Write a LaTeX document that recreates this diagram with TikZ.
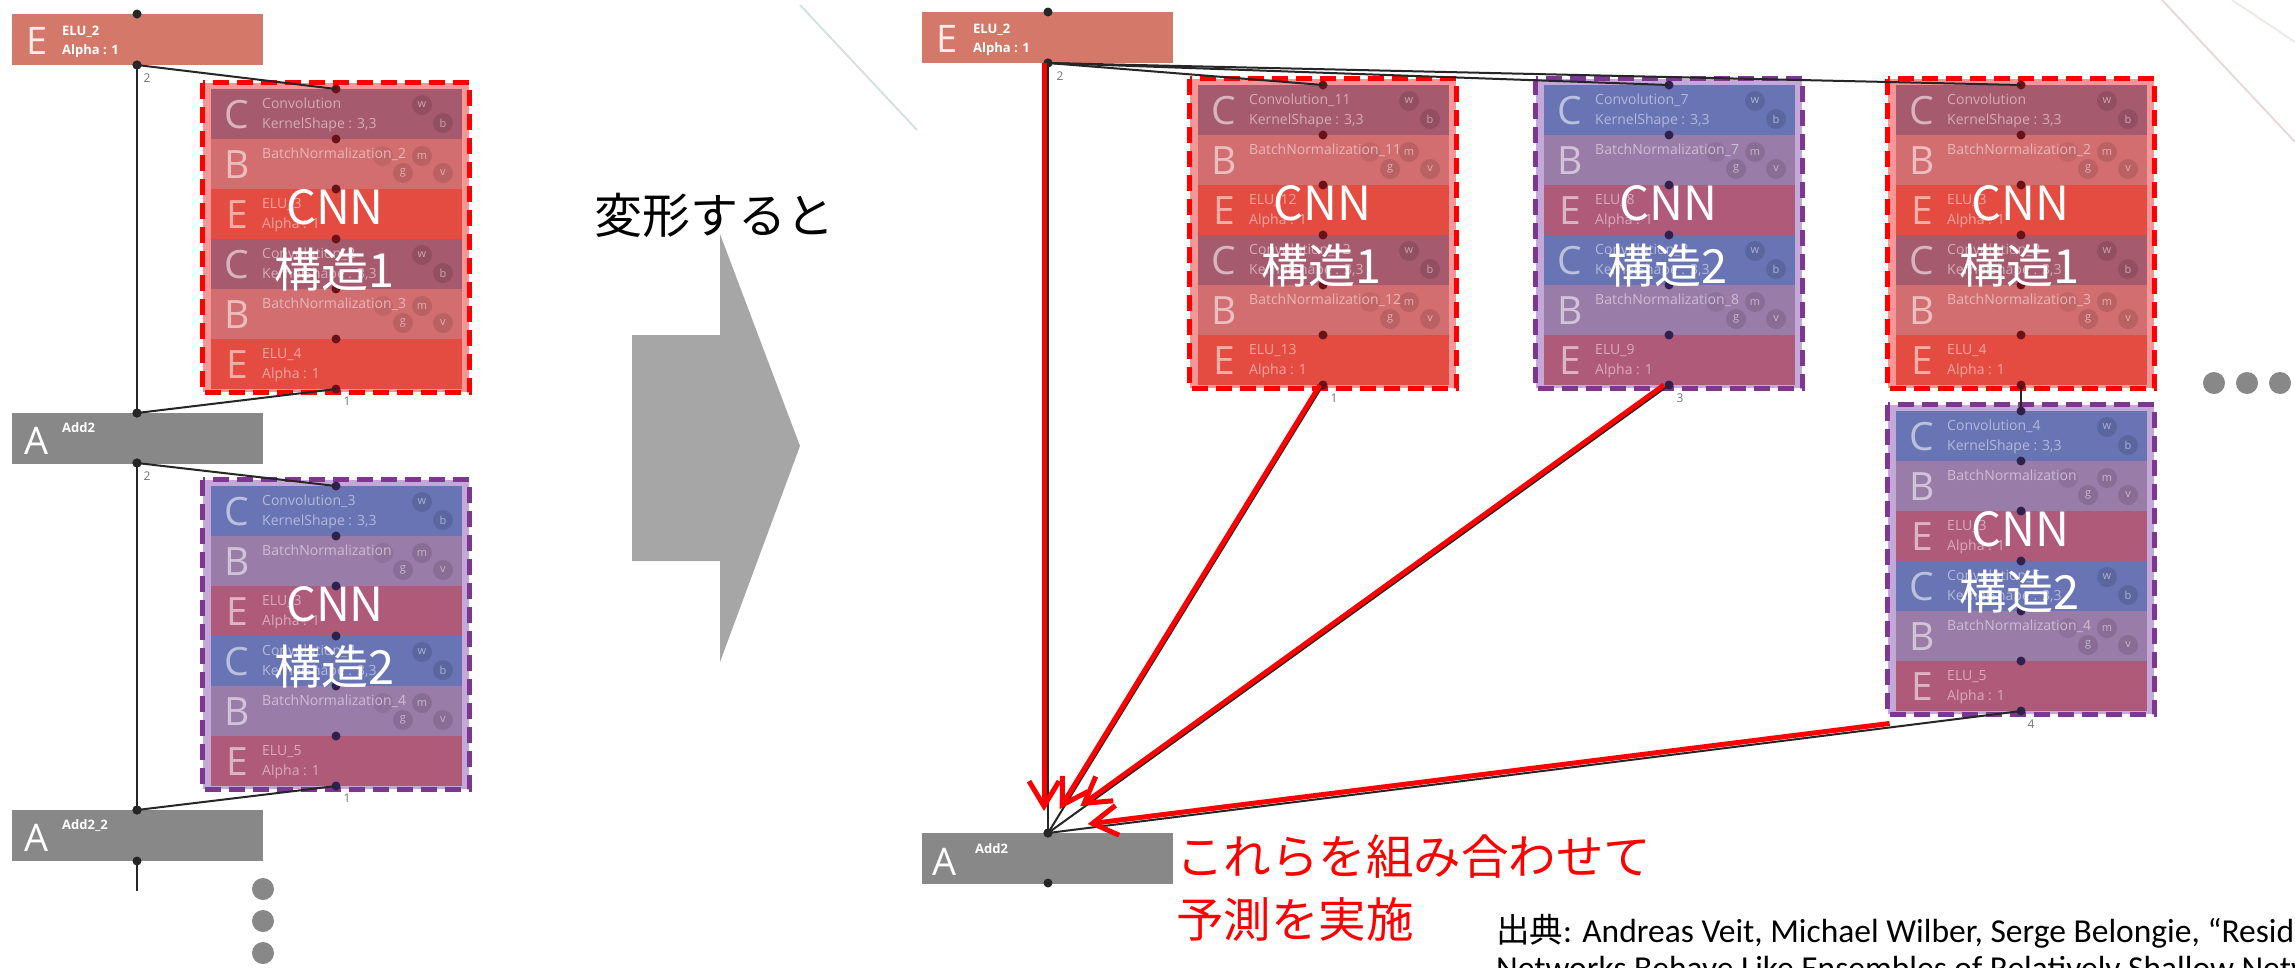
\documentclass[tikz,border=0pt]{standalone}
\usepackage{fontspec}
\setmainfont{Open Sans}
\setsansfont{Open Sans}
\newfontfamily\jp{Noto Sans CJK JP}
\newfontfamily\calib{Carlito}
\usetikzlibrary{arrows.meta,calc}
\definecolor{eluC}{RGB}{212,120,106}
\definecolor{addC}{RGB}{136,136,136}
\definecolor{arrC}{RGB}{166,166,166}
\definecolor{rC}{RGB}{166,90,110}
\definecolor{rB}{RGB}{210,110,112}
\definecolor{rE}{RGB}{228,76,66}
\definecolor{rBd}{RGB}{246,150,150}
\definecolor{rDash}{RGB}{255,0,0}
\definecolor{rDot}{RGB}{105,18,24}
\definecolor{pC}{RGB}{104,116,180}
\definecolor{pB}{RGB}{154,124,168}
\definecolor{pE}{RGB}{176,90,122}
\definecolor{pBd}{RGB}{196,168,216}
\definecolor{pDash}{RGB}{125,55,145}
\definecolor{pDot}{RGB}{48,32,78}
\definecolor{faintA}{RGB}{212,226,226}
\definecolor{faintB}{RGB}{232,218,216}
\newcommand\fsz[1]{\fontsize{#1}{#1}\selectfont}
\def\typeC{C}\def\typeB{B}\def\typeE{E}
\def\rnum{1}\def\pnum{2}
\tikzset{
 odot/.style={circle,fill=black!85,inner sep=0,minimum size=9},
 cdot/.style={circle,inner sep=0,minimum size=9},
 boxrect/.style={inner sep=0,minimum width=251,minimum height=51},
 boxletter/.style={inner sep=0,text=white!92!red,font=\sffamily\fsz{38}},
 boxname/.style={inner sep=0,anchor=base west,text=white,font=\sffamily\bfseries\fsz{13}},
 bigletter/.style={inner sep=0,font=\sffamily\fsz{39}},
 lname/.style={inner sep=0,anchor=base west,font=\sffamily\fsz{14}},
 pcirc/.style={circle,inner sep=0,minimum size=20,font=\sffamily\fsz{11}},
 cnntext/.style={inner sep=0,text=white,font=\jp\fsz{47}},
 conn/.style={draw=black!85,line width=2},
 redarr/.style={draw=red,line width=5,-{Straight Barb[length=25pt,width=30pt]}},
 num/.style={inner sep=0,font=\sffamily\fsz{12},text=black!55},
 gdot/.style={circle,fill=addC,inner sep=0,minimum size=22},
}
\newcommand\cnnbox[5]{%
 \begin{scope}[shift={(#2,#3)}]
  \fill[#4Bd] (3,3) rectangle (269,312);
  \foreach \t/\n [count=\i from 0] in {#5} {
    \edef\cc{#4\t}
    \colorlet{curC}{\cc}
    \pgfmathsetmacro\yt{9+50*\i}
    \fill[curC] (11,\yt) rectangle (262,\yt+50);
    \ifx\t\typeC
      \node[pcirc,fill=curC!88!black,text=curC!55!white] (#1-w\i) at (222,\yt+16) {w};
      \node[pcirc,fill=curC!88!black,text=curC!55!white] (#1-b\i) at (243,\yt+34) {b};
      \node[lname,text=curC!50!white] (#1-s\i) at (62,\yt+39) {KernelShape : 3,3};
    \fi
    \ifx\t\typeB
      \node[pcirc,fill=curC!92!black] (#1-x\i) at (183,\yt+17) {};
      \node[pcirc,fill=curC!88!black,text=curC!55!white] (#1-m\i) at (222,\yt+17) {m};
      \node[pcirc,fill=curC!88!black,text=curC!55!white] (#1-g\i) at (203,\yt+34) {g};
      \node[pcirc,fill=curC!88!black,text=curC!55!white] (#1-v\i) at (243,\yt+34) {v};
    \fi
    \ifx\t\typeE
      \node[lname,text=curC!50!white] (#1-s\i) at (62,\yt+39) {Alpha : 1};
    \fi
    \node[bigletter,text=curC!45!white] (#1-L\i) at (37,\yt+26) {\t};
    \node[lname,text=curC!50!white] (#1-n\i) at (62,\yt+19) {\n};
  }
  \draw[#4Dash,line width=5,dash pattern=on 16pt off 8pt] (2.5,2.5) rectangle (269.5,312.5);
  \foreach \j in {0,...,6} \node[cdot,fill=#4Dot] (#1-d\j) at (136,9+50*\j) {};
  \node[cnntext] (#1-t1) at (135,127) {CNN};
  \node[cnntext] (#1-t2) at (135,190) {構造\csname #4num\endcsname};
 \end{scope}}
\begin{document}
\begin{tikzpicture}[x=1pt,y=-1pt]
\useasboundingbox (0,0) rectangle (2295,967);
\clip (0,0) rectangle (2295,967);
\fill[white] (0,0) rectangle (2295,967);
% faint background strokes
\draw[faintA,line width=2] (800,5) -- (917,130);
\draw[faintB,line width=2] (2162,0) -- (2295,142);
\draw[faintB!60!white,line width=2] (2232,0) -- (2295,42);

% ---------- left column ----------
\node[boxrect,fill=eluC] (lelu) at (137,39.5) {};
\node[boxletter] (lelu-l) at (37,41) {E};
\node[boxname] (lelu-n) at (62,35) {ELU\_2};
\node[boxname] (lelu-a) at (62,54) {Alpha : 1};
\node[odot] (lelu-t) at (137,14) {};
\node[odot] (lelu-b) at (137,65) {};

\node[boxrect,fill=addC] (la2) at (137,438) {};
\node[boxletter,text=white] (la2-l) at (37,441) {A};
\node[boxname] (la2-n) at (62,432) {Add2};
\node[odot] (la2-t) at (137,413) {};
\node[odot] (la2-b) at (137,463) {};

\node[boxrect,fill=addC] (la22) at (137,835.5) {};
\node[boxletter,text=white] (la22-l) at (37,838) {A};
\node[boxname] (la22-n) at (62,829) {Add2\_2};
\node[odot] (la22-t) at (137,810) {};
\node[odot] (la22-b) at (137,861) {};
\coordinate (lend) at (137,891);

\cnnbox{L1}{200}{80}{r}{C/Convolution,B/BatchNormalization\_2,E/ELU\_3,C/Convolution\_2,B/BatchNormalization\_3,E/ELU\_4}
\cnnbox{L2}{200}{477}{p}{C/Convolution\_3,B/BatchNormalization,E/ELU\_3,C/Convolution\_4,B/BatchNormalization\_4,E/ELU\_5}

\draw[conn] (lelu-b.center) -- (la2-t.center);
\draw[conn] (lelu-b.center) -- (L1-d0.center);
\draw[conn] (L1-d6.center) -- (la2-t.center);
\draw[conn] (la2-b.center) -- (la22-t.center);
\draw[conn] (la2-b.center) -- (L2-d0.center);
\draw[conn] (L2-d6.center) -- (la22-t.center);
\draw[conn] (la22-b.center) -- (lend);
\node[odot] at (lelu-b) {};
\node[odot] at (la2-t) {};
\node[odot] at (la2-b) {};
\node[odot] at (la22-t) {};

\node[num] (ln2a) at (147,78) {2};
\node[num] (ln1a) at (347,401) {1};
\node[num] (ln2b) at (147,476) {2};
\node[num] (ln1b) at (347,798) {1};

\node[gdot] (lg1) at (263,889) {};
\node[gdot] (lg2) at (263,921) {};
\node[gdot] (lg3) at (263,953) {};

% ---------- middle ----------
\node[anchor=west,inner sep=0,font=\jp\fsz{48}] (henkei) at (594,215) {変形すると};
\fill[arrC] (632,335) -- (720,335) -- (720,234) -- (800,446) -- (720,662) -- (720,561) -- (632,561) -- cycle;

% ---------- right ----------
\node[boxrect,fill=eluC] (relu) at (1047.5,37.5) {};
\node[boxletter] (relu-l) at (947,39) {E};
\node[boxname] (relu-n) at (973,33) {ELU\_2};
\node[boxname] (relu-a) at (973,52) {Alpha : 1};
\node[odot] (relu-t) at (1048,12) {};
\node[odot] (relu-b) at (1048,63) {};

\node[boxrect,fill=addC] (ra2) at (1047.5,858) {};
\node[boxletter,text=white] (ra2-l) at (945,862) {A};
\node[boxname] (ra2-n) at (975,853) {Add2};
\node[odot] (ra2-t) at (1048,833) {};
\node[odot] (ra2-b) at (1048,883) {};

\cnnbox{A}{1187}{76}{r}{C/Convolution\_11,B/BatchNormalization\_11,E/ELU\_12,C/Convolution\_12,B/BatchNormalization\_12,E/ELU\_13}
\cnnbox{B}{1533}{76}{p}{C/Convolution\_7,B/BatchNormalization\_7,E/ELU\_8,C/Convolution\_8,B/BatchNormalization\_8,E/ELU\_9}
\cnnbox{C}{1885}{76}{r}{C/Convolution,B/BatchNormalization\_2,E/ELU\_3,C/Convolution\_2,B/BatchNormalization\_3,E/ELU\_4}
\cnnbox{D}{1885}{402}{p}{C/Convolution\_4,B/BatchNormalization,E/ELU\_3,C/Convolution\_5,B/BatchNormalization\_4,E/ELU\_5}

\draw[conn] (relu-b.center) -- (A-d0.center);
\draw[conn] (relu-b.center) -- (B-d0.center);
\draw[conn] (relu-b.center) -- (C-d0.center);
\draw[conn] (C-d6.center) -- (D-d0.center);
\draw[conn] (relu-b.center) -- (ra2-t.center);
\draw[conn] (A-d6.center) -- (ra2-t.center);
\draw[conn] (B-d6.center) -- (ra2-t.center);
\draw[conn] (D-d6.center) -- (ra2-t.center);
\node[odot] at (relu-b) {};
\node[odot] at (ra2-t) {};

\coordinate (dstart) at ($(D-d6.center)!0.135!(ra2-t.center)$);
\draw[redarr,shorten >=22pt] ([xshift=-4pt]relu-b.center) -- ([xshift=-4pt]ra2-t.center);
\draw[redarr,shorten >=28pt] ([xshift=-3pt]A-d6.center) -- ([xshift=-3pt]ra2-t.center);
\draw[redarr,shorten >=46pt] ([xshift=-5pt]B-d6.center) -- ([xshift=-5pt]ra2-t.center);
\draw[redarr,shorten >=40pt] ([yshift=4pt]dstart) -- ([yshift=4pt]ra2-t.center);

\node[num] (rn2) at (1060,76) {2};
\node[num] (rn1) at (1334,398) {1};
\node[num] (rn3) at (1680,398) {3};
\node[num] (rn4) at (2031,724) {4};

\node[gdot] (rg1) at (2214,383) {};
\node[gdot] (rg2) at (2247,383) {};
\node[gdot] (rg3) at (2280,383) {};

\node[anchor=west,inner sep=0,font=\jp\fsz{47.5},text=red] (res1) at (1176,856) {これらを組み合わせて};
\node[anchor=west,inner sep=0,font=\jp\fsz{47.5},text=red] (res2) at (1176,919) {予測を実施};

\node[anchor=base west,inner sep=0,font=\calib\fsz{33.5}] (cite1) at (1496,942) {{\jp 出典}: Andreas Veit, Michael Wilber, Serge Belongie, “Residual};
\node[anchor=base west,inner sep=0,font=\calib\fsz{33.5}] (cite2) at (1496,979) {Networks Behave Like Ensembles of Relatively Shallow Networks”};
\end{tikzpicture}
\end{document}
